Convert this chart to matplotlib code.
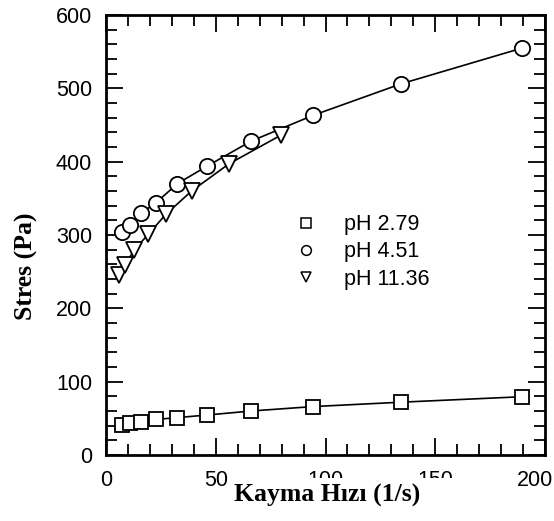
import matplotlib
matplotlib.use("Agg")
import matplotlib.pyplot as plt
from matplotlib.lines import Line2D
from matplotlib.patches import Rectangle
from matplotlib.ticker import MultipleLocator
from matplotlib.transforms import ScaledTranslation

# Shear rate (1/s) and shear stress (Pa) for three pH levels
rate_low = [7.3, 11.0, 16.0, 22.8, 32.5, 46.1, 66.1, 94.2, 134.3, 189.7]
stress_ph279 = [41, 43, 45, 48.5, 51, 54.5, 60, 66, 72, 79.5]

rate_mid = [7.3, 11.0, 16.0, 22.8, 32.5, 46.1, 66.1, 94.2, 134.3, 189.7]
stress_ph451 = [304, 313, 330, 344, 370, 394, 428, 463, 506, 555]

rate_high = [5.9, 8.7, 12.9, 19.3, 27.2, 39.0, 56.0, 79.6]
stress_ph1136 = [245, 259, 280, 301, 328, 360, 397, 436]

series_labels = ["pH 2.79", "pH 4.51", "pH 11.36"]
x_ticks = [0, 50, 100, 150, 200]
y_ticks = [0, 100, 200, 300, 400, 500, 600]

W, H = 554, 521
fig = plt.figure(figsize=(W / 100, H / 100), dpi=100)
ax = fig.add_axes([106 / W, 1 - 455 / H, (545 - 106) / W, (455 - 15) / H])

tick_font = {"family": "Liberation Sans", "size": 15.5}
mk = dict(markerfacecolor="white", markeredgecolor="black", markeredgewidth=1.3,
          color="black", linewidth=1.2)
ax.plot(rate_low, stress_ph279, marker="s", markersize=10, **mk)
ax.plot(rate_mid, stress_ph451, marker="o", markersize=11, **mk)
ax.plot(rate_high, stress_ph1136, marker="v", markersize=11, **mk)

ax.set_xlim(0, 200)
ax.set_ylim(0, 600)
ax.set_xticks(x_ticks)
ax.set_yticks(y_ticks)
ax.set_xticklabels([str(v) for v in x_ticks], fontdict=tick_font)
ax.set_yticklabels([str(v) for v in y_ticks], fontdict=tick_font)
ax.xaxis.set_minor_locator(MultipleLocator(10))
ax.yaxis.set_minor_locator(MultipleLocator(20))
ax.tick_params(which="both", direction="in", top=True, right=True, width=1.3)
ax.tick_params(which="major", length=12)
ax.tick_params(which="minor", length=8)
ax.tick_params(axis="x", which="major", pad=11)
ax.tick_params(axis="y", which="major", pad=10)
for s in ax.spines.values():
    s.set_linewidth(2)

# keep the last x tick label inside the canvas
last = ax.get_xticklabels()[-1]
last.set_transform(last.get_transform() + ScaledTranslation(-10 / 100, 0, fig.dpi_scale_trans))

handles = [
    Line2D([], [], linestyle="none", marker=m, markersize=7, markerfacecolor="white",
           markeredgecolor="black", markeredgewidth=1.1)
    for m in ("s", "o", "v")
]
ax.legend(handles, series_labels, loc="center left",
          bbox_to_anchor=(286 / W, 1 - 252 / H), bbox_transform=fig.transFigure,
          frameon=False, prop={"family": "Liberation Sans", "size": 15.5},
          handlelength=0.9, handletextpad=1.3, labelspacing=0.3, borderpad=0)

# white band behind the x-axis title
fig.patches.append(Rectangle((232 / W, 1 - 512 / H), (465 - 232) / W, (512 - 478) / H,
                             transform=fig.transFigure, facecolor="white",
                             edgecolor="none", zorder=5))
fig.text(327 / W, 1 - 495 / H, "Kayma Hızı (1/s)", ha="center", va="center",
         family="Liberation Serif", weight="bold", size=18.5, zorder=6)
fig.text(26 / W, 1 - 266 / H, "Stres (Pa)", ha="center", va="center", rotation=90,
         family="Liberation Serif", weight="bold", size=18.5, zorder=6)

fig.savefig("out.png", dpi=100)
